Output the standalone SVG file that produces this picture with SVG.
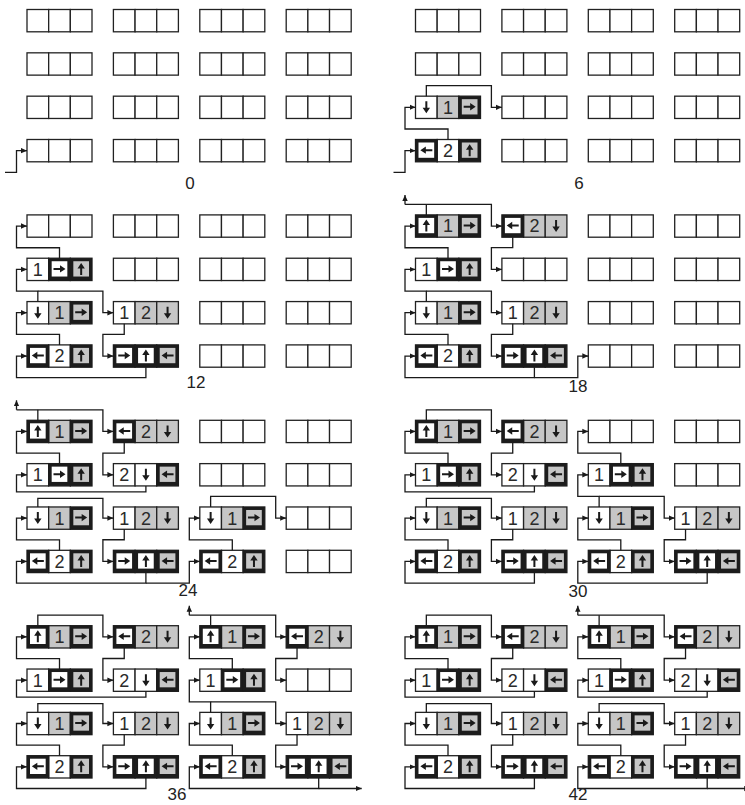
<svg xmlns="http://www.w3.org/2000/svg" width="745" height="805" viewBox="0 0 745 805">
<style>
.t{fill:#fff;stroke:#222;stroke-width:1.3}
.g{fill:#c6c6c6}
.d{fill:#1c1c1c;stroke:#1c1c1c;stroke-width:1.3}
.iw{fill:#fff}
.ig{fill:#c6c6c6}
.n{font-family:"Liberation Sans",Arial,sans-serif;font-size:18px;fill:#2a2a2a;text-anchor:middle}
.lbl{font-family:"Liberation Sans",Arial,sans-serif;font-size:17px;fill:#222;text-anchor:middle}
.c path{fill:none;stroke:#1a1a1a;stroke-width:1.3}
.c path.m{marker-end:url(#ah)}
</style>
<defs>
<path id="au" d="M-1,6V-0.5H-3.7L0,-6L3.7,-0.5H1V6Z" fill="#1a1a1a"/>
<marker id="ah" markerUnits="userSpaceOnUse" markerWidth="7" markerHeight="6" refX="6" refY="3" orient="auto"><path d="M0,0.3L6,3L0,5.7Z" fill="#1a1a1a"/></marker>
<g id="bE"><rect class="t" x="0" y="0" width="21.67" height="22.3"/><rect class="t" x="21.67" y="0" width="21.67" height="22.3"/><rect class="t" x="43.33" y="0" width="21.67" height="22.3"/></g>
<g id="bA"><rect class="t" x="0" y="0" width="21.67" height="22.3"/><rect class="t g" x="21.67" y="0" width="21.67" height="22.3"/><rect class="d" x="43.33" y="0" width="21.67" height="22.3"/><rect class="ig" x="46.33" y="3" width="15.67" height="15.3"/><use href="#au" transform="translate(10.83,11.15) rotate(180)"/><text class="n" x="32.5" y="17.6">1</text><use href="#au" transform="translate(54.17,10.65) rotate(90)"/></g>
<g id="bB"><rect class="t" x="21.67" y="0" width="21.67" height="22.3"/><rect class="d" x="0" y="0" width="21.67" height="22.3"/><rect class="iw" x="3" y="3" width="15.67" height="15.3"/><rect class="d" x="43.33" y="0" width="21.67" height="22.3"/><rect class="ig" x="46.33" y="3" width="15.67" height="15.3"/><use href="#au" transform="translate(10.83,10.65) rotate(270)"/><text class="n" x="32.5" y="17.6">2</text><use href="#au" transform="translate(54.17,10.65)"/></g>
<g id="bC"><rect class="t" x="0" y="0" width="21.67" height="22.3"/><rect class="d" x="21.67" y="0" width="21.67" height="22.3"/><rect class="iw" x="24.67" y="3" width="15.67" height="15.3"/><rect class="d" x="43.33" y="0" width="21.67" height="22.3"/><rect class="ig" x="46.33" y="3" width="15.67" height="15.3"/><text class="n" x="10.83" y="17.6">1</text><use href="#au" transform="translate(32.5,10.65) rotate(90)"/><use href="#au" transform="translate(54.17,10.65)"/></g>
<g id="bF"><rect class="t" x="0" y="0" width="21.67" height="22.3"/><rect class="t g" x="21.67" y="0" width="21.67" height="22.3"/><rect class="t g" x="43.33" y="0" width="21.67" height="22.3"/><text class="n" x="10.83" y="17.6">1</text><text class="n" x="32.5" y="17.6">2</text><use href="#au" transform="translate(54.17,11.15) rotate(180)"/></g>
<g id="bH"><rect class="d" x="0" y="0" width="21.67" height="22.3"/><rect class="iw" x="3" y="3" width="15.67" height="15.3"/><rect class="d" x="21.67" y="0" width="21.67" height="22.3"/><rect class="iw" x="24.67" y="3" width="15.67" height="15.3"/><rect class="d" x="43.33" y="0" width="21.67" height="22.3"/><rect class="ig" x="46.33" y="3" width="15.67" height="15.3"/><use href="#au" transform="translate(10.83,10.65) rotate(90)"/><use href="#au" transform="translate(32.5,10.65)"/><use href="#au" transform="translate(54.17,10.65) rotate(270)"/></g>
<g id="bI"><rect class="t g" x="21.67" y="0" width="21.67" height="22.3"/><rect class="d" x="0" y="0" width="21.67" height="22.3"/><rect class="iw" x="3" y="3" width="15.67" height="15.3"/><rect class="d" x="43.33" y="0" width="21.67" height="22.3"/><rect class="ig" x="46.33" y="3" width="15.67" height="15.3"/><use href="#au" transform="translate(10.83,10.65)"/><text class="n" x="32.5" y="17.6">1</text><use href="#au" transform="translate(54.17,10.65) rotate(90)"/></g>
<g id="bJ"><rect class="t g" x="21.67" y="0" width="21.67" height="22.3"/><rect class="t g" x="43.33" y="0" width="21.67" height="22.3"/><rect class="d" x="0" y="0" width="21.67" height="22.3"/><rect class="iw" x="3" y="3" width="15.67" height="15.3"/><use href="#au" transform="translate(10.83,10.65) rotate(270)"/><text class="n" x="32.5" y="17.6">2</text><use href="#au" transform="translate(54.17,11.15) rotate(180)"/></g>
<g id="bK"><rect class="t" x="0" y="0" width="21.67" height="22.3"/><rect class="t" x="21.67" y="0" width="21.67" height="22.3"/><rect class="d" x="43.33" y="0" width="21.67" height="22.3"/><rect class="ig" x="46.33" y="3" width="15.67" height="15.3"/><text class="n" x="10.83" y="17.6">2</text><use href="#au" transform="translate(32.5,11.15) rotate(180)"/><use href="#au" transform="translate(54.17,10.65) rotate(270)"/></g>
</defs>
<rect x="0" y="0" width="745" height="805" fill="#fff"/>

<!-- Panel 0 -->
<g id="panel-0" transform="translate(27,9.5)">
<g id="n0-r0c0"><use href="#bE" x="0" y="0"/></g><g id="n0-r0c1"><use href="#bE" x="86.4" y="0"/></g><g id="n0-r0c2"><use href="#bE" x="172.8" y="0"/></g><g id="n0-r0c3"><use href="#bE" x="259.2" y="0"/></g>
<g id="n0-r1c0"><use href="#bE" x="0" y="43.33"/></g><g id="n0-r1c1"><use href="#bE" x="86.4" y="43.33"/></g><g id="n0-r1c2"><use href="#bE" x="172.8" y="43.33"/></g><g id="n0-r1c3"><use href="#bE" x="259.2" y="43.33"/></g>
<g id="n0-r2c0"><use href="#bE" x="0" y="86.67"/></g><g id="n0-r2c1"><use href="#bE" x="86.4" y="86.67"/></g><g id="n0-r2c2"><use href="#bE" x="172.8" y="86.67"/></g><g id="n0-r2c3"><use href="#bE" x="259.2" y="86.67"/></g>
<g id="n0-r3c0"><use href="#bE" x="0" y="130"/></g><g id="n0-r3c1"><use href="#bE" x="86.4" y="130"/></g><g id="n0-r3c2"><use href="#bE" x="172.8" y="130"/></g><g id="n0-r3c3"><use href="#bE" x="259.2" y="130"/></g>
<g id="c0" class="c">
<path class="m" d="M-22,162.8H-10.5V141.15H0"/>
</g>
</g>
<text class="lbl" x="190" y="189">0</text>

<!-- Panel 6 -->
<g id="panel-6" transform="translate(415.5,9.5)">
<g id="n6-r0c0"><use href="#bE" x="0" y="0"/></g><g id="n6-r0c1"><use href="#bE" x="86.4" y="0"/></g><g id="n6-r0c2"><use href="#bE" x="172.8" y="0"/></g><g id="n6-r0c3"><use href="#bE" x="259.2" y="0"/></g>
<g id="n6-r1c0"><use href="#bE" x="0" y="43.33"/></g><g id="n6-r1c1"><use href="#bE" x="86.4" y="43.33"/></g><g id="n6-r1c2"><use href="#bE" x="172.8" y="43.33"/></g><g id="n6-r1c3"><use href="#bE" x="259.2" y="43.33"/></g>
<g id="n6-r2c0"><use href="#bA" x="0" y="86.67"/></g><g id="n6-r2c1"><use href="#bE" x="86.4" y="86.67"/></g><g id="n6-r2c2"><use href="#bE" x="172.8" y="86.67"/></g><g id="n6-r2c3"><use href="#bE" x="259.2" y="86.67"/></g>
<g id="n6-r3c0"><use href="#bB" x="0" y="130"/></g><g id="n6-r3c1"><use href="#bE" x="86.4" y="130"/></g><g id="n6-r3c2"><use href="#bE" x="172.8" y="130"/></g><g id="n6-r3c3"><use href="#bE" x="259.2" y="130"/></g>
<g id="c6" class="c">
<path class="m" d="M-22,162.8H-10.5V141.15H0"/>
<path class="m" d="M32.5,130V119.5H-10.5V97.82H0"/>
<path class="m" d="M10.83,86.67V76.17H75.9V97.82H86.4"/>
</g>
</g>
<text class="lbl" x="579" y="189">6</text>

<!-- Panel 12 -->
<g id="panel-12" transform="translate(27,214.9)">
<g id="n12-r0c0"><use href="#bE" x="0" y="0"/></g><g id="n12-r0c1"><use href="#bE" x="86.4" y="0"/></g><g id="n12-r0c2"><use href="#bE" x="172.8" y="0"/></g><g id="n12-r0c3"><use href="#bE" x="259.2" y="0"/></g>
<g id="n12-r1c0"><use href="#bC" x="0" y="43.33"/></g><g id="n12-r1c1"><use href="#bE" x="86.4" y="43.33"/></g><g id="n12-r1c2"><use href="#bE" x="172.8" y="43.33"/></g><g id="n12-r1c3"><use href="#bE" x="259.2" y="43.33"/></g>
<g id="n12-r2c0"><use href="#bA" x="0" y="86.67"/></g><g id="n12-r2c1"><use href="#bF" x="86.4" y="86.67"/></g><g id="n12-r2c2"><use href="#bE" x="172.8" y="86.67"/></g><g id="n12-r2c3"><use href="#bE" x="259.2" y="86.67"/></g>
<g id="n12-r3c0"><use href="#bB" x="0" y="130"/></g><g id="n12-r3c1"><use href="#bH" x="86.4" y="130"/></g><g id="n12-r3c2"><use href="#bE" x="172.8" y="130"/></g><g id="n12-r3c3"><use href="#bE" x="259.2" y="130"/></g>
<g id="c12" class="c">
<path class="m" d="M32.5,43.33V32.83H-10.5V11.15H0"/>
<path class="m" d="M10.83,86.67V76.17H-10.5V54.48H0"/>
<path class="m" d="M10.83,76.17H75.9V97.82H86.4"/>
<path class="m" d="M32.5,130V119.5H-10.5V97.82H0"/>
<path class="m" d="M97.23,108.97V119.47H75.9V141.15H86.4"/>
<path class="m" d="M118.9,152.3V162.8H-10.5V141.15H0"/>
</g>
</g>
<text class="lbl" x="196" y="388">12</text>

<!-- Panel 18 -->
<g id="panel-18" transform="translate(415.5,214.9)">
<g id="n18-r0c0"><use href="#bI" x="0" y="0"/></g><g id="n18-r0c1"><use href="#bJ" x="86.4" y="0"/></g><g id="n18-r0c2"><use href="#bE" x="172.8" y="0"/></g><g id="n18-r0c3"><use href="#bE" x="259.2" y="0"/></g>
<g id="n18-r1c0"><use href="#bC" x="0" y="43.33"/></g><g id="n18-r1c1"><use href="#bE" x="86.4" y="43.33"/></g><g id="n18-r1c2"><use href="#bE" x="172.8" y="43.33"/></g><g id="n18-r1c3"><use href="#bE" x="259.2" y="43.33"/></g>
<g id="n18-r2c0"><use href="#bA" x="0" y="86.67"/></g><g id="n18-r2c1"><use href="#bF" x="86.4" y="86.67"/></g><g id="n18-r2c2"><use href="#bE" x="172.8" y="86.67"/></g><g id="n18-r2c3"><use href="#bE" x="259.2" y="86.67"/></g>
<g id="n18-r3c0"><use href="#bB" x="0" y="130"/></g><g id="n18-r3c1"><use href="#bH" x="86.4" y="130"/></g><g id="n18-r3c2"><use href="#bE" x="172.8" y="130"/></g><g id="n18-r3c3"><use href="#bE" x="259.2" y="130"/></g>
<g id="c18" class="c">
<path d="M10.83,0V-10.5"/>
<path class="m" d="M-10.5,-10.5V-20"/>
<path class="m" d="M-10.5,-10.5H75.9V11.15H86.4"/>
<path class="m" d="M32.5,43.33V32.83H-10.5V11.15H0"/>
<path class="m" d="M97.23,22.3V32.8H75.9V54.48H86.4"/>
<path class="m" d="M10.83,86.67V76.17H-10.5V54.48H0"/>
<path class="m" d="M10.83,76.17H75.9V97.82H86.4"/>
<path class="m" d="M32.5,130V119.5H-10.5V97.82H0"/>
<path class="m" d="M97.23,108.97V119.47H75.9V141.15H86.4"/>
<path class="m" d="M118.9,152.3V162.8H-10.5V141.15H0"/>
<path class="m" d="M118.9,162.8H162.3V141.15H172.8"/>
</g>
</g>
<text class="lbl" x="578" y="392">18</text>

<!-- Panel 24 -->
<g id="panel-24" transform="translate(27,420.3)">
<g id="n24-r0c0"><use href="#bI" x="0" y="0"/></g><g id="n24-r0c1"><use href="#bJ" x="86.4" y="0"/></g><g id="n24-r0c2"><use href="#bE" x="172.8" y="0"/></g><g id="n24-r0c3"><use href="#bE" x="259.2" y="0"/></g>
<g id="n24-r1c0"><use href="#bC" x="0" y="43.33"/></g><g id="n24-r1c1"><use href="#bK" x="86.4" y="43.33"/></g><g id="n24-r1c2"><use href="#bE" x="172.8" y="43.33"/></g><g id="n24-r1c3"><use href="#bE" x="259.2" y="43.33"/></g>
<g id="n24-r2c0"><use href="#bA" x="0" y="86.67"/></g><g id="n24-r2c1"><use href="#bF" x="86.4" y="86.67"/></g><g id="n24-r2c2"><use href="#bA" x="172.8" y="86.67"/></g><g id="n24-r2c3"><use href="#bE" x="259.2" y="86.67"/></g>
<g id="n24-r3c0"><use href="#bB" x="0" y="130"/></g><g id="n24-r3c1"><use href="#bH" x="86.4" y="130"/></g><g id="n24-r3c2"><use href="#bB" x="172.8" y="130"/></g><g id="n24-r3c3"><use href="#bE" x="259.2" y="130"/></g>
<g id="c24" class="c">
<path d="M10.83,0V-10.5"/>
<path class="m" d="M-10.5,-10.5V-20"/>
<path class="m" d="M-10.5,-10.5H75.9V11.15H86.4"/>
<path class="m" d="M32.5,43.33V32.83H-10.5V11.15H0"/>
<path class="m" d="M97.23,22.3V32.8H75.9V54.48H86.4"/>
<path class="m" d="M118.9,65.63V71.5H-10.5V54.48H0"/>
<path class="m" d="M10.83,86.67V78H75.9V97.82H86.4"/>
<path class="m" d="M32.5,130V119.5H-10.5V97.82H0"/>
<path class="m" d="M97.23,108.97V119.47H75.9V141.15H86.4"/>
<path class="m" d="M118.9,152.3V162.8H-10.5V141.15H0"/>
<path class="m" d="M118.9,162.8H162.3V141.15H172.8"/>
<path class="m" d="M205.3,130V119.5H162.3V97.82H172.8"/>
<path class="m" d="M183.63,86.67V76.17H248.7V97.82H259.2"/>
</g>
</g>
<text class="lbl" x="188" y="596">24</text>

<!-- Panel 30 -->
<g id="panel-30" transform="translate(415.5,420.3)">
<g id="n30-r0c0"><use href="#bI" x="0" y="0"/></g><g id="n30-r0c1"><use href="#bJ" x="86.4" y="0"/></g><g id="n30-r0c2"><use href="#bE" x="172.8" y="0"/></g><g id="n30-r0c3"><use href="#bE" x="259.2" y="0"/></g>
<g id="n30-r1c0"><use href="#bC" x="0" y="43.33"/></g><g id="n30-r1c1"><use href="#bK" x="86.4" y="43.33"/></g><g id="n30-r1c2"><use href="#bC" x="172.8" y="43.33"/></g><g id="n30-r1c3"><use href="#bE" x="259.2" y="43.33"/></g>
<g id="n30-r2c0"><use href="#bA" x="0" y="86.67"/></g><g id="n30-r2c1"><use href="#bF" x="86.4" y="86.67"/></g><g id="n30-r2c2"><use href="#bA" x="172.8" y="86.67"/></g><g id="n30-r2c3"><use href="#bF" x="259.2" y="86.67"/></g>
<g id="n30-r3c0"><use href="#bB" x="0" y="130"/></g><g id="n30-r3c1"><use href="#bH" x="86.4" y="130"/></g><g id="n30-r3c2"><use href="#bB" x="172.8" y="130"/></g><g id="n30-r3c3"><use href="#bH" x="259.2" y="130"/></g>
<g id="c30" class="c">
<path class="m" d="M10.83,0V-10.5H75.9V11.15H86.4"/>
<path class="m" d="M32.5,43.33V32.83H-10.5V11.15H0"/>
<path class="m" d="M97.23,22.3V32.8H75.9V54.48H86.4"/>
<path class="m" d="M118.9,65.63V71.5H-10.5V54.48H0"/>
<path class="m" d="M10.83,86.67V78H75.9V97.82H86.4"/>
<path class="m" d="M32.5,130V119.5H-10.5V97.82H0"/>
<path class="m" d="M97.23,108.97V119.47H75.9V141.15H86.4"/>
<path class="m" d="M118.9,152.3V162.8H-10.5V141.15H0"/>
<path class="m" d="M205.3,43.33V32.83H162.3V11.15H172.8"/>
<path class="m" d="M183.63,86.67V76.17H162.3V54.48H172.8"/>
<path class="m" d="M183.63,76.17H248.7V97.82H259.2"/>
<path class="m" d="M205.3,130V119.5H162.3V97.82H172.8"/>
<path class="m" d="M270.03,108.97V119.47H248.7V141.15H259.2"/>
<path class="m" d="M291.7,152.3V162.8H162.3V141.15H172.8"/>
</g>
</g>
<text class="lbl" x="578" y="597">30</text>

<!-- Panel 36 -->
<g id="panel-36" transform="translate(27,625.7)">
<g id="n36-r0c0"><use href="#bI" x="0" y="0"/></g><g id="n36-r0c1"><use href="#bJ" x="86.4" y="0"/></g><g id="n36-r0c2"><use href="#bI" x="172.8" y="0"/></g><g id="n36-r0c3"><use href="#bJ" x="259.2" y="0"/></g>
<g id="n36-r1c0"><use href="#bC" x="0" y="43.33"/></g><g id="n36-r1c1"><use href="#bK" x="86.4" y="43.33"/></g><g id="n36-r1c2"><use href="#bC" x="172.8" y="43.33"/></g><g id="n36-r1c3"><use href="#bE" x="259.2" y="43.33"/></g>
<g id="n36-r2c0"><use href="#bA" x="0" y="86.67"/></g><g id="n36-r2c1"><use href="#bF" x="86.4" y="86.67"/></g><g id="n36-r2c2"><use href="#bA" x="172.8" y="86.67"/></g><g id="n36-r2c3"><use href="#bF" x="259.2" y="86.67"/></g>
<g id="n36-r3c0"><use href="#bB" x="0" y="130"/></g><g id="n36-r3c1"><use href="#bH" x="86.4" y="130"/></g><g id="n36-r3c2"><use href="#bB" x="172.8" y="130"/></g><g id="n36-r3c3"><use href="#bH" x="259.2" y="130"/></g>
<g id="c36" class="c">
<path class="m" d="M10.83,0V-10.5H75.9V11.15H86.4"/>
<path class="m" d="M32.5,43.33V32.83H-10.5V11.15H0"/>
<path class="m" d="M97.23,22.3V32.8H75.9V54.48H86.4"/>
<path class="m" d="M118.9,65.63V71.5H-10.5V54.48H0"/>
<path class="m" d="M10.83,86.67V78H75.9V97.82H86.4"/>
<path class="m" d="M32.5,130V119.5H-10.5V97.82H0"/>
<path class="m" d="M97.23,108.97V119.47H75.9V141.15H86.4"/>
<path class="m" d="M118.9,152.3V162.8H-10.5V141.15H0"/>
<path d="M183.63,0V-10.5"/>
<path class="m" d="M162.3,-10.5V-20"/>
<path class="m" d="M162.3,-10.5H248.7V11.15H259.2"/>
<path class="m" d="M205.3,43.33V32.83H162.3V11.15H172.8"/>
<path class="m" d="M270.03,22.3V32.8H248.7V54.48H259.2"/>
<path class="m" d="M183.63,86.67V76.17H162.3V54.48H172.8"/>
<path class="m" d="M183.63,76.17H248.7V97.82H259.2"/>
<path class="m" d="M205.3,130V119.5H162.3V97.82H172.8"/>
<path class="m" d="M270.03,108.97V119.47H248.7V141.15H259.2"/>
<path class="m" d="M291.7,152.3V162.8H162.3V141.15H172.8"/>
<path class="m" d="M291.7,162.8H334.7"/>
</g>
</g>
<text class="lbl" x="177" y="800">36</text>

<!-- Panel 42 -->
<g id="panel-42" transform="translate(415.5,625.7)">
<g id="n42-r0c0"><use href="#bI" x="0" y="0"/></g><g id="n42-r0c1"><use href="#bJ" x="86.4" y="0"/></g><g id="n42-r0c2"><use href="#bI" x="172.8" y="0"/></g><g id="n42-r0c3"><use href="#bJ" x="259.2" y="0"/></g>
<g id="n42-r1c0"><use href="#bC" x="0" y="43.33"/></g><g id="n42-r1c1"><use href="#bK" x="86.4" y="43.33"/></g><g id="n42-r1c2"><use href="#bC" x="172.8" y="43.33"/></g><g id="n42-r1c3"><use href="#bK" x="259.2" y="43.33"/></g>
<g id="n42-r2c0"><use href="#bA" x="0" y="86.67"/></g><g id="n42-r2c1"><use href="#bF" x="86.4" y="86.67"/></g><g id="n42-r2c2"><use href="#bA" x="172.8" y="86.67"/></g><g id="n42-r2c3"><use href="#bF" x="259.2" y="86.67"/></g>
<g id="n42-r3c0"><use href="#bB" x="0" y="130"/></g><g id="n42-r3c1"><use href="#bH" x="86.4" y="130"/></g><g id="n42-r3c2"><use href="#bB" x="172.8" y="130"/></g><g id="n42-r3c3"><use href="#bH" x="259.2" y="130"/></g>
<g id="c42" class="c">
<path class="m" d="M10.83,0V-10.5H75.9V11.15H86.4"/>
<path class="m" d="M32.5,43.33V32.83H-10.5V11.15H0"/>
<path class="m" d="M97.23,22.3V32.8H75.9V54.48H86.4"/>
<path class="m" d="M118.9,65.63V71.5H-10.5V54.48H0"/>
<path class="m" d="M10.83,86.67V78H75.9V97.82H86.4"/>
<path class="m" d="M32.5,130V119.5H-10.5V97.82H0"/>
<path class="m" d="M97.23,108.97V119.47H75.9V141.15H86.4"/>
<path class="m" d="M118.9,152.3V162.8H-10.5V141.15H0"/>
<path d="M183.63,0V-10.5"/>
<path class="m" d="M162.3,-10.5V-20"/>
<path class="m" d="M162.3,-10.5H248.7V11.15H259.2"/>
<path class="m" d="M205.3,43.33V32.83H162.3V11.15H172.8"/>
<path class="m" d="M270.03,22.3V32.8H248.7V54.48H259.2"/>
<path class="m" d="M291.7,65.63V71.5H162.3V54.48H172.8"/>
<path class="m" d="M183.63,86.67V78H248.7V97.82H259.2"/>
<path class="m" d="M205.3,130V119.5H162.3V97.82H172.8"/>
<path class="m" d="M270.03,108.97V119.47H248.7V141.15H259.2"/>
<path class="m" d="M291.7,152.3V162.8H162.3V141.15H172.8"/>
<path class="m" d="M291.7,162.8H334.7"/>
</g>
</g>
<text class="lbl" x="578" y="800">42</text>
</svg>
